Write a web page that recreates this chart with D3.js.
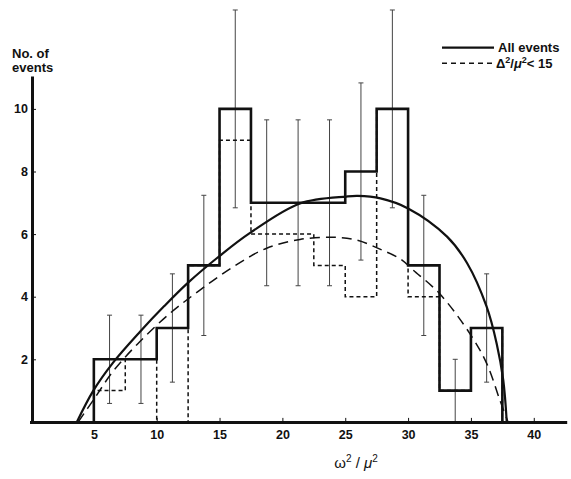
<!DOCTYPE html>
<html>
<head>
<meta charset="utf-8">
<script src="https://cdn.jsdelivr.net/npm/d3@7"></script>
<style>
  body { margin: 0; background: #fff; }
  svg { display: block; }
  text { font-family: "Liberation Sans", Arial, sans-serif; fill: #111; }
</style>
</head>
<body>
<svg id="chart" width="571" height="479"></svg>
<script>
// Histogram bins in omega^2/mu^2 (width 2.5)
const binEdges = [5, 7.5, 10, 12.5, 15, 17.5, 20, 22.5, 25, 27.5, 30, 32.5, 35, 37.5];
// Counts per bin
const allEvents = [2, 2, 3, 5, 10, 7, 7, 7, 8, 10, 5, 1, 3];
const lowDelta  = [1, 2, 0, 5, 9, 6, 6, 5, 4, 10, 4, 1, 3];
// Statistical error (half-length of each bar) on the all-events counts
const allErrors = [1.41, 1.41, 1.73, 2.24, 3.16, 2.65, 2.65, 2.65, 2.83, 3.16, 2.24, 1.0, 1.73];

// Phase-space curves [omega^2/mu^2, events]
const allCurve = [[3.65, 0], [4.96, 1.0], [6.5, 1.88], [8.67, 2.88], [10.6, 3.7], [12.5, 4.45],
  [15, 5.3], [17.4, 6.03], [21.4, 6.98], [25.1, 7.2], [26, 7.22], [27.8, 7.14], [30, 6.82],
  [33.1, 5.92], [34.7, 5.07], [36.25, 3.68], [37.05, 2.5], [37.57, 1.34], [37.85, 0]];
const lowCurve = [[3.76, 0], [5.0, 0.72], [6.5, 1.6], [8.5, 2.5], [11, 3.45], [13.44, 4.21],
  [16.1, 4.96], [18.75, 5.55], [21.4, 5.83], [24, 5.9], [25.9, 5.81], [27.76, 5.52], [29.4, 5.2],
  [30.4, 4.85], [32.5, 4.1], [34.9, 2.83], [36.25, 1.87], [37.3, 0.7], [37.95, 0]];

const xTicks = [5, 10, 15, 20, 25, 30, 35, 40];
const yTicks = [2, 4, 6, 8, 10];

const svg = d3.select("#chart");
const x = d3.scaleLinear().domain([0, 42.5]).range([31, 565.2]);
const y = d3.scaleLinear().domain([0, 11]).range([421.9, 77.6]);

// step outline of a histogram
function stepPoints(counts) {
  const pts = [[binEdges[0], 0]];
  counts.forEach((c, i) => {
    pts.push([binEdges[i], c]);
    pts.push([binEdges[i + 1], c]);
  });
  pts.push([binEdges[binEdges.length - 1], 0]);
  return pts;
}
const lineStep = d3.line().x(d => x(d[0])).y(d => y(d[1]));
const lineSmooth = d3.line().x(d => x(d[0])).y(d => y(d[1])).curve(d3.curveCatmullRom.alpha(0.5));

// error bars
const centers = allEvents.map((c, i) => (binEdges[i] + binEdges[i + 1]) / 2);
const eb = svg.append("g").attr("stroke", "#444").attr("stroke-width", 1).attr("fill", "none");
allEvents.forEach((c, i) => {
  const cx = x(centers[i]);
  const top = y(c + allErrors[i]);
  const bot = y(Math.max(0, c - allErrors[i]));
  eb.append("line").attr("x1", cx).attr("x2", cx).attr("y1", top).attr("y2", bot);
  eb.append("line").attr("x1", cx - 2.5).attr("x2", cx + 2.5).attr("y1", top).attr("y2", top);
  if (c - allErrors[i] > 0) {
    eb.append("line").attr("x1", cx - 2.5).attr("x2", cx + 2.5).attr("y1", bot).attr("y2", bot);
  }
});

// dashed histogram (Delta^2/mu^2 < 15)
svg.append("path")
  .attr("d", lineStep(stepPoints(lowDelta)))
  .attr("fill", "none").attr("stroke", "#111").attr("stroke-width", 1.5)
  .attr("stroke-dasharray", "4,3");

// solid histogram (all events)
svg.append("path")
  .attr("d", lineStep(stepPoints(allEvents)))
  .attr("fill", "none").attr("stroke", "#111").attr("stroke-width", 2.6)
  .attr("stroke-linejoin", "miter");

// curves
svg.append("path")
  .attr("d", lineSmooth(lowCurve))
  .attr("fill", "none").attr("stroke", "#111").attr("stroke-width", 1.5)
  .attr("stroke-dasharray", "10,6");
svg.append("path")
  .attr("d", lineSmooth(allCurve))
  .attr("fill", "none").attr("stroke", "#111").attr("stroke-width", 2.2);

// axes
const xAxis = d3.axisBottom(x).tickValues(xTicks).tickFormat(d3.format("d"))
  .tickSizeInner(-4).tickSizeOuter(0).tickPadding(8);
const gx = svg.append("g").attr("transform", `translate(0,${y(0)})`).call(xAxis);
gx.select(".domain").attr("stroke", "#111").attr("stroke-width", 3).attr("stroke-linecap", "square");
gx.selectAll(".tick line").attr("stroke", "#111").attr("stroke-width", 1);
gx.selectAll(".tick text").attr("font-size", 12.5).attr("font-weight", "bold")
  .attr("font-family", "Liberation Sans, Arial, sans-serif").attr("fill", "#111");

const yAxis = d3.axisLeft(y).tickValues(yTicks).tickFormat(d3.format("d"))
  .tickSizeInner(-4).tickSizeOuter(0).tickPadding(4);
const gy = svg.append("g").attr("transform", `translate(${x(0) + 1},0)`).call(yAxis);
gy.select(".domain").attr("stroke", "#111").attr("stroke-width", 3).attr("stroke-linecap", "square");
gy.selectAll(".tick line").attr("stroke", "#111").attr("stroke-width", 1);
gy.selectAll(".tick text").attr("font-size", 12.5).attr("font-weight", "bold")
  .attr("font-family", "Liberation Sans, Arial, sans-serif").attr("fill", "#111");

// y axis title
svg.append("text").attr("x", 12).attr("y", 58).attr("font-size", 13).attr("font-weight", "bold").text("No. of");
svg.append("text").attr("x", 12).attr("y", 71.5).attr("font-size", 13).attr("font-weight", "bold").text("events");

// x axis title
const xt = svg.append("text").attr("x", 356).attr("y", 468).attr("text-anchor", "middle").attr("font-size", 15);
xt.append("tspan").text("ω");
xt.append("tspan").attr("font-size", 10).attr("dy", -6).text("2");
xt.append("tspan").attr("dy", 6).text(" / ");
xt.append("tspan").attr("font-style", "italic").text("μ");
xt.append("tspan").attr("font-size", 10).attr("dy", -6).text("2");

// legend
svg.append("line").attr("x1", 442).attr("x2", 494).attr("y1", 47.7).attr("y2", 47.7)
  .attr("stroke", "#111").attr("stroke-width", 2.2);
svg.append("text").attr("x", 498).attr("y", 51.5).attr("font-size", 13).attr("font-weight", "bold").text("All events");
svg.append("line").attr("x1", 442).attr("x2", 495).attr("y1", 63.3).attr("y2", 63.3)
  .attr("stroke", "#111").attr("stroke-width", 1.5).attr("stroke-dasharray", "5,4");
const lt = svg.append("text").attr("x", 496).attr("y", 67.5).attr("font-size", 13).attr("font-weight", "bold");
lt.append("tspan").text("Δ");
lt.append("tspan").attr("font-size", 9).attr("dy", -5).text("2");
lt.append("tspan").attr("dy", 5).text("/");
lt.append("tspan").attr("font-style", "italic").text("μ");
lt.append("tspan").attr("font-size", 9).attr("dy", -5).text("2");
lt.append("tspan").attr("dy", 5).text("< 15");
</script>
</body>
</html>
